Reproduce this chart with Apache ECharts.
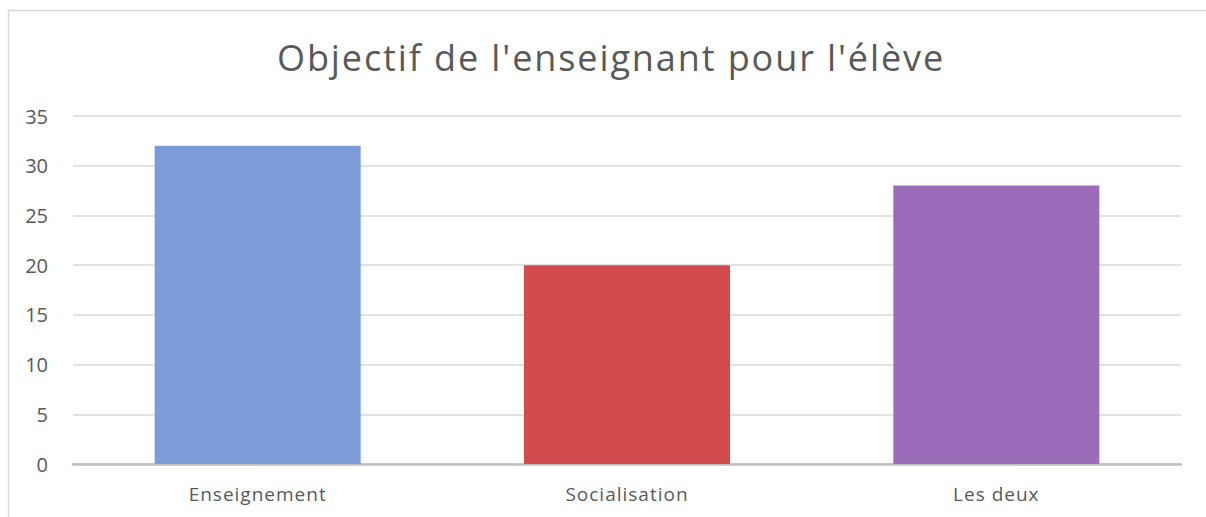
<!DOCTYPE html>
<html><head><meta charset="utf-8">
<script src="https://cdn.jsdelivr.net/npm/echarts@6/dist/echarts.min.js"></script>
<style>html,body{margin:0;padding:0;background:#fff}#c{width:1206px;height:517px}</style>
</head><body><div id="c"></div>
<script>
const categories = ["Enseignement", "Socialisation", "Les deux"];
const values = [32, 20, 28];
const barColors = ["#7B9CD6", "#D34B4C", "#9A6CBA"];
const yTicks = [0, 5, 10, 15, 20, 25, 30, 35];
const title = "Objectif de l'enseignant pour l'élève";

const chart = echarts.init(document.getElementById('c'), null, {renderer: 'svg'});
chart.setOption({
  animation: false,
  backgroundColor: '#fff',
  graphic: [{
    type: 'rect', silent: true, z: -1,
    shape: {x: 8.5, y: 10.5, width: 1300, height: 600},
    style: {fill: 'none', stroke: '#D9D9D9', lineWidth: 1.5}
  }],
  title: {
    text: title, left: 272, top: 34,
    textStyle: {fontFamily: 'Open Sans', fontSize: 36, fontWeight: 'normal', color: '#595959'}
  },
  grid: {left: 73, right: 25, top: 116, bottom: 53, containLabel: false},
  xAxis: {
    type: 'category', data: categories,
    axisLine: {lineStyle: {color: '#BFBFBF', width: 2.5}},
    axisTick: {show: false},
    axisLabel: {fontFamily: 'Open Sans', fontSize: 19, color: '#595959', margin: 20}
  },
  yAxis: {
    type: 'value', min: yTicks[0], max: yTicks[yTicks.length - 1], interval: 5,
    axisLine: {show: false}, axisTick: {show: false},
    splitLine: {lineStyle: {color: '#D9D9D9', width: 1.5}},
    axisLabel: {fontFamily: 'Open Sans', fontSize: 20, color: '#595959', margin: 25}
  },
  series: [{
    type: 'bar', barWidth: 206,
    data: values.map((v, i) => ({value: v, itemStyle: {color: barColors[i]}}))
  }]
});
// widen the letter spacing like the original's typeface
document.querySelectorAll('#c text').forEach(t => {
  const s = t.textContent;
  if (s === title) t.setAttribute('letter-spacing', '1.9');
  else if (categories.includes(s)) t.setAttribute('letter-spacing', '1');
});
</script></body></html>
